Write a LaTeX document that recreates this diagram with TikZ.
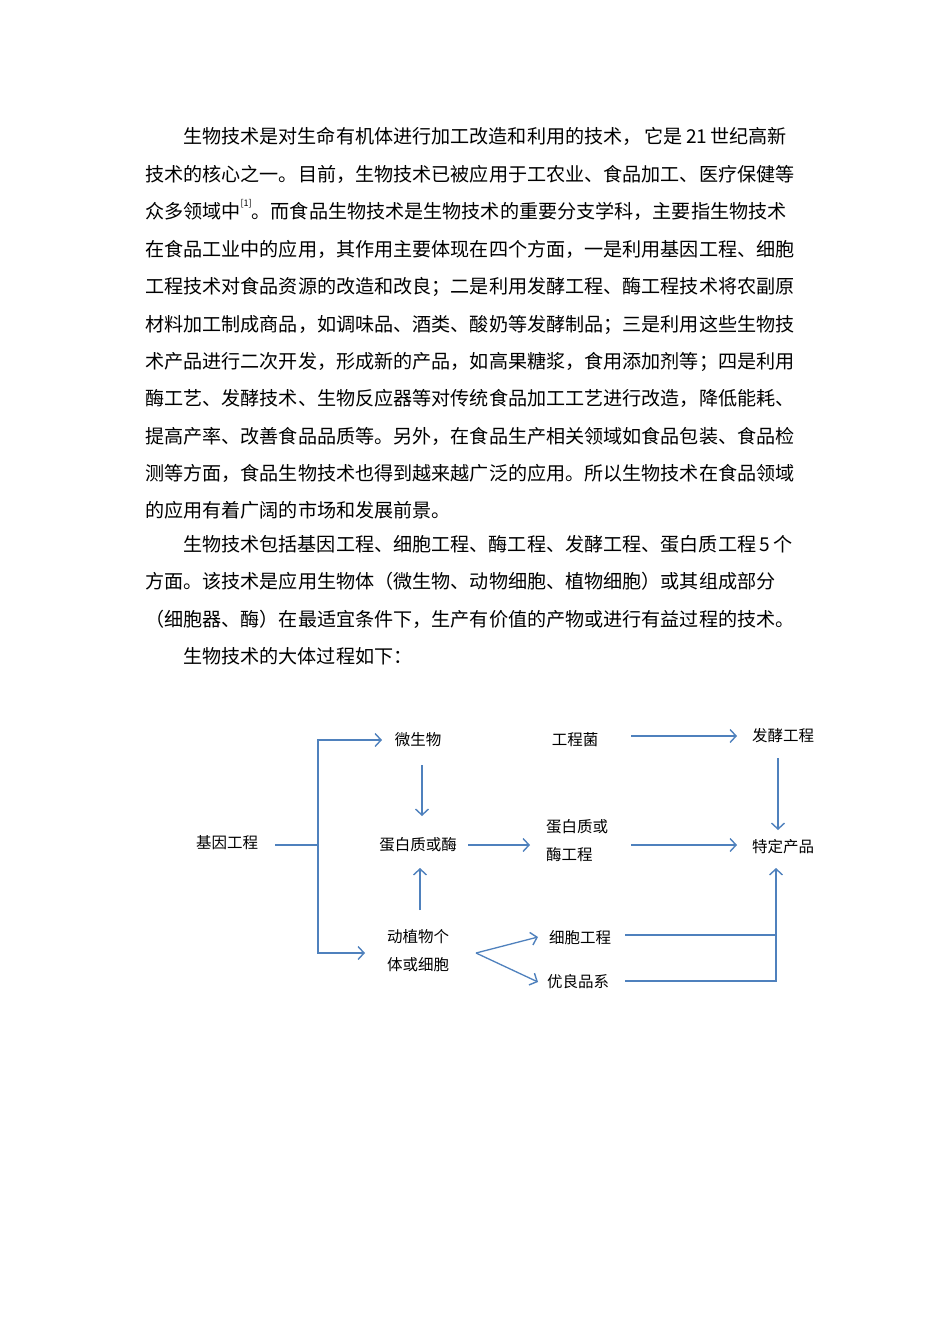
\documentclass[tikz,border=0pt]{standalone}
\usepackage{fontspec}
\setmainfont{Carlito}
\newfontfamily\cjk{Noto Sans CJK SC}
\usetikzlibrary{arrows.meta}
\definecolor{ablue}{RGB}{79,129,189}
\tikzset{
 para/.style={anchor=base west,inner sep=0,font=\cjk\fontsize{19.1}{20}\selectfont},
 lbl/.style={inner sep=1,font=\cjk\fontsize{15.5}{17}\selectfont},
 flow/.style={draw=ablue,line width=1.3pt,-{Straight Barb[length=6pt,width=13pt,line width=1.4pt]}},
 plain/.style={draw=ablue,line width=1.3pt}
}
\begin{document}
\begin{tikzpicture}[x=1pt,y=-1pt]
\useasboundingbox[fill=white] (0,0) rectangle (950,1344);
\node[para] (l1) at (183,143) {生物技术是对生命有机体进行加工改造和利用的技术，\,它是\,21\,世纪高新};
\node[para] (l2) at (145,181) {技术的核心之一。目前，生物技术已被应用于工农业、食品加工、医疗保健等};
\node[para] (l3) at (145,218) {众多领域中\raisebox{0.6em}{\fontsize{9}{9}\selectfont[1]}。而食品生物技术是生物技术的重要分支学科，主要指生物技术};
\node[para] (l4) at (145,256) {在食品工业中的应用，其作用主要体现在四个方面，一是利用基因工程、细胞};
\node[para] (l5) at (145,293) {工程技术对食品资源的改造和改良；二是利用发酵工程、酶工程技术将农副原};
\node[para] (l6) at (145,331) {材料加工制成商品，如调味品、酒类、酸奶等发酵制品；三是利用这些生物技};
\node[para] (l7) at (145,368) {术产品进行二次开发，形成新的产品，如高果糖浆，食用添加剂等；四是利用};
\node[para] (l8) at (145,405) {酶工艺、发酵技术、生物反应器等对传统食品加工工艺进行改造，降低能耗、};
\node[para] (l9) at (145,443) {提高产率、改善食品品质等。另外，在食品生产相关领域如食品包装、食品检};
\node[para] (l10) at (145,480) {测等方面，食品生物技术也得到越来越广泛的应用。所以生物技术在食品领域};
\node[para] (l11) at (145,517) {的应用有着广阔的市场和发展前景。};
\node[para] (l12) at (183,551) {生物技术包括基因工程、细胞工程、酶工程、发酵工程、蛋白质工程\,5\,个};
\node[para] (l13) at (145,588) {方面。该技术是应用生物体（微生物、动物细胞、植物细胞）或其组成部分};
\node[para] (l14) at (145,626) {（细胞器、酶）在最适宜条件下，生产有价值的产物或进行有益过程的技术。};
\node[para] (l15) at (183,663) {生物技术的大体过程如下：};

\node[lbl] (jy) at (227,843) {基因工程};
\node[lbl] (wsw) at (418,740) {微生物};
\node[lbl] (gcj) at (575,740) {工程菌};
\node[lbl] (fj) at (783,736) {发酵工程};
\node[lbl] (dbm) at (418,845) {蛋白质或酶};
\node[lbl,align=left,font=\cjk\fontsize{15.5}{28}\selectfont] (dbg) at (577,841) {蛋白质或\\酶工程};
\node[lbl] (tc) at (783,847) {特定产品};
\node[lbl,align=center,font=\cjk\fontsize{15.5}{28}\selectfont] (dzw) at (418,951) {动植物个\\体或细胞};
\node[lbl] (xb) at (580,938) {细胞工程};
\node[lbl] (yl) at (578,982) {优良品系};

\coordinate (j1) at (275,845);
\coordinate (j2) at (318,845);
\coordinate (j3) at (318,740);
\coordinate (j4) at (318,953);
\coordinate (a1) at (382,740);
\coordinate (a2) at (365,953);
\draw[plain] (j1) -- (j2);
\draw[flow] (j2) -- (j3) -- (a1);
\draw[flow] (j2) -- (j4) -- (a2);
\draw[flow] (422,765) coordinate (w0) -- (422,816) coordinate (w1);
\draw[flow] (420,910) coordinate (d0) -- (420,868) coordinate (d1);
\draw[flow] (468,845) coordinate (b0) -- (530,845) coordinate (b1);
\draw[flow] (631,845) coordinate (c0) -- (737,845) coordinate (c1);
\draw[flow] (631,736) coordinate (g0) -- (737,736) coordinate (g1);
\draw[flow] (778,758) coordinate (f0) -- (778,830) coordinate (f1);
\coordinate (s) at (476,953);
\draw[flow] (s) -- (538,937) coordinate (s1);
\draw[flow] (s) -- (538,982) coordinate (s2);
\draw[plain] (625,935) coordinate (x0) -- (776,935) coordinate (x1);
\draw[flow] (625,981) coordinate (y0) -- (776,981) coordinate (y1) -- (776,868) coordinate (y2);
\end{tikzpicture}
\end{document}
